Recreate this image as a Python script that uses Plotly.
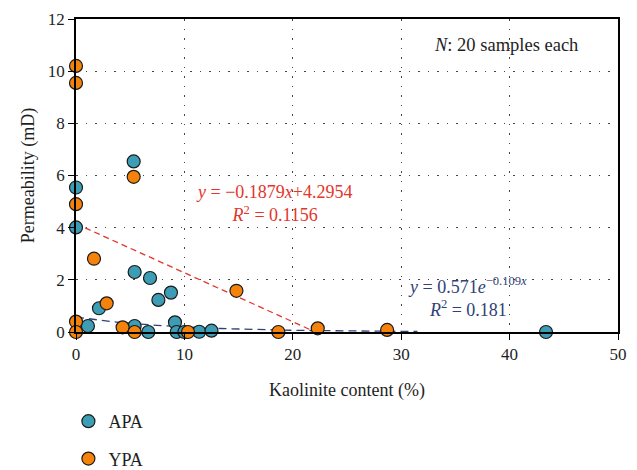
import numpy as np
import plotly.graph_objects as go

# ---- data ----
apa_x = [5.32, 0.0, 0.0, 5.41, 6.83, 8.76, 7.6, 2.12, 1.1, 5.41, 9.13, 6.67, 9.29, 10.0, 11.37, 12.5, 43.36]
apa_y = [6.54, 5.54, 4.01, 2.30, 2.07, 1.51, 1.23, 0.91, 0.23, 0.23, 0.37, 0.0, 0.0, 0.0, 0.01, 0.05, 0.0]

ypa_x = [0.0, 0.0, 5.32, 0.0, 1.66, 2.83, 14.8, 0.0, 0.0, 4.3, 5.41, 10.33, 18.67, 22.3, 27.8, 28.7]
ypa_y = [10.2, 9.55, 5.95, 4.9, 2.81, 1.10, 1.58, 0.40, 0.0, 0.18, 0.0, 0.0, 0.0, 0.14, -0.06, 0.08]

# trend lines (as drawn)
lin_slope, lin_icpt, lin_xmax = -0.1879, 4.15, 21.8
exp_a, exp_b, exp_xmax = 0.571, -0.109, 31.5

x_ticks = [0, 10, 20, 30, 40, 50]
y_ticks = [0, 2, 4, 6, 8, 10, 12]

FONT = "Liberation Serif"
TEAL = "#3d9db5"
ORANGE = "#f5820a"
RED = "#e2362c"
NAVY = "#2f4275"
TXT = "#1e1e1e"

fig = go.Figure()

lx = np.array([0.0, lin_xmax])
fig.add_trace(go.Scatter(x=lx, y=lin_slope * lx + lin_icpt, mode="lines",
                         line=dict(color=RED, width=1.3, dash="6px,4px"),
                         showlegend=False, hoverinfo="skip"))
ex = np.linspace(0, exp_xmax, 60)
fig.add_trace(go.Scatter(x=ex, y=exp_a * np.exp(exp_b * ex), mode="lines",
                         line=dict(color=NAVY, width=1.3, dash="8px,5px"),
                         showlegend=False, hoverinfo="skip"))

fig.add_trace(go.Scatter(x=apa_x, y=apa_y, mode="markers", name="APA",
                         legendgroup="a", cliponaxis=False,
                         marker=dict(size=13, color=TEAL, line=dict(color="#1a1a1a", width=1.2))))
fig.add_trace(go.Scatter(x=ypa_x, y=ypa_y, mode="markers", name="YPA",
                         legendgroup="b", cliponaxis=False,
                         marker=dict(size=13, color=ORANGE, line=dict(color="#1a1a1a", width=1.2))))

def px_x(p):
    return (p - 76) / 542

def px_y(p):
    return (332 - p) / 313

fig.add_annotation(xref="paper", yref="paper", x=px_x(274), y=px_y(203),
                   xanchor="center", yanchor="middle",
                   text="<i>y</i> = −0.1879<i>x</i>+4.2954<br><i>R</i><sup>2</sup> = 0.1156",
                   showarrow=False, font=dict(family=FONT, size=18, color=RED), align="center")
fig.add_annotation(xref="paper", yref="paper", x=px_x(467), y=px_y(297),
                   xanchor="center", yanchor="middle",
                   text="<i>y</i> = 0.571<i>e</i><sup>−0.109<i>x</i></sup><br><i>R</i><sup>2</sup> = 0.181",
                   showarrow=False, font=dict(family=FONT, size=18, color=NAVY), align="center")
fig.add_annotation(xref="paper", yref="paper", x=px_x(506), y=px_y(45),
                   xanchor="center", yanchor="middle",
                   text="<i>N</i>: 20 samples each",
                   showarrow=False, font=dict(family=FONT, size=18.5, color=TXT))

axis_common = dict(showline=True, linecolor="black", linewidth=1.5, mirror=True,
                   ticks="outside", ticklen=6, tickcolor="black", tickwidth=1,
                   showgrid=True, gridcolor="#444", gridwidth=1.2, griddash="1.5px,8px",
                   zeroline=False, tickfont=dict(family=FONT, size=17, color=TXT))

fig.update_xaxes(range=[0, 50], tickvals=x_ticks,
                 title=dict(text="Kaolinite content (%)", font=dict(family=FONT, size=18, color=TXT),
                            standoff=20), **axis_common)
fig.update_yaxes(range=[0, 12], tickvals=y_ticks,
                 title=dict(text="Permeability (mD)", font=dict(family=FONT, size=18, color=TXT),
                            standoff=9), **axis_common)

fig.update_layout(
    width=637, height=470,
    margin=dict(l=76, r=19, t=19, b=138, autoexpand=False),
    plot_bgcolor="white", paper_bgcolor="white",
    font=dict(family=FONT, size=17, color=TXT),
    legend=dict(x=-0.014, xanchor="left", yref="container", y=1 - 403 / 470, yanchor="top",
                font=dict(family=FONT, size=18, color=TXT),
                tracegroupgap=11, traceorder="grouped", bgcolor="rgba(0,0,0,0)"),
)

fig.write_html("out.html")
